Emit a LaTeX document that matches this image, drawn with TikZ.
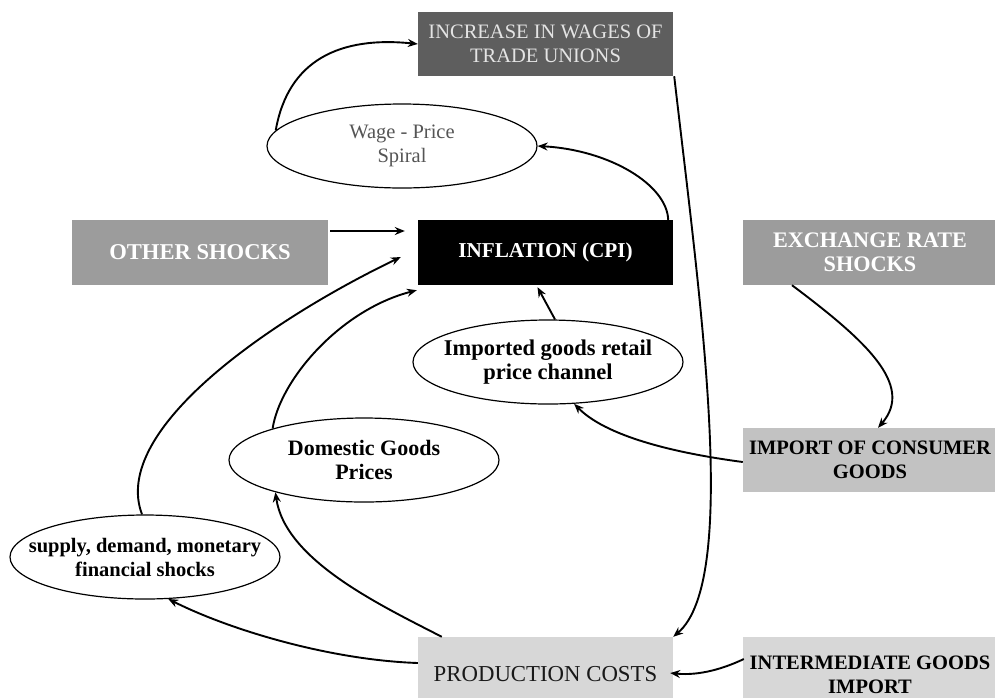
\documentclass[tikz,border=0pt]{standalone}
\usepackage{fontspec}
\setmainfont{Liberation Serif}
\usetikzlibrary{shapes.geometric,arrows.meta,calc}

\definecolor{wagebox}{HTML}{5E5E5E}
\definecolor{wagetext}{HTML}{E4E4E4}
\definecolor{shockbox}{HTML}{9C9C9C}
\definecolor{importbox}{HTML}{C2C2C2}
\definecolor{costbox}{HTML}{D7D7D7}
\definecolor{spiraltext}{HTML}{555555}

\newcommand{\txtsize}[1]{\fontsize{#1}{24}\selectfont}

\begin{document}
\begin{tikzpicture}[x=1pt,y=-1pt,
  box/.style={rectangle, inner sep=0pt, align=center,
    font=\txtsize{20.5}\bfseries},
  bubble/.style={ellipse, draw=black, line width=1.2pt, fill=white,
    minimum width=270pt, minimum height=84pt, inner sep=0pt},
  bubbletext/.style={align=center, inner sep=0pt,
    font=\txtsize{20.5}\bfseries},
  link/.style={line width=1.9pt, -{Stealth[length=10pt,width=8pt]}}]

\useasboundingbox (0,0) rectangle (995,697);
\clip (0,0) rectangle (995,697);

% rectangular boxes
\node[box, fill=wagebox, text=wagetext, minimum width=255pt, minimum height=64pt,
  font=\txtsize{20.5}] (inc) at (545.5,44) {INCREASE IN WAGES OF\\TRADE UNIONS};
\node[box, fill=shockbox, text=white, minimum width=256pt, minimum height=65pt,
  font=\txtsize{22.6}\bfseries] (oth) at (200,252.5) {OTHER SHOCKS};
\node[box, fill=black, text=white, minimum width=255pt, minimum height=65pt,
  font=\txtsize{21.2}\bfseries] (inf) at (545.5,252.5) {INFLATION (CPI)};
\node[box, fill=shockbox, text=white, minimum width=254pt, minimum height=65pt,
  font=\txtsize{22.2}\bfseries] (exch) at (870,252.5) {EXCHANGE RATE\\SHOCKS};
\node[box, fill=importbox, text=black, minimum width=254pt, minimum height=64pt] (impc) at (870,460) {IMPORT OF CONSUMER\\GOODS};
\node[box, fill=costbox, text=black!90, minimum width=255pt, minimum height=75pt,
  font=\txtsize{22.8}] (prod) at (545.5,674.5) {PRODUCTION COSTS};
\node[box, fill=costbox, text=black, minimum width=254pt, minimum height=75pt] (intm) at (870,674.5) {INTERMEDIATE GOODS\\IMPORT};

% elliptical channels
\node[bubble] (wage) at (402,146) {};
\node[bubbletext, text=spiraltext, font=\txtsize{20.5}] at (wage) {Wage - Price\\Spiral};
\node[bubble] (impg) at (548,362) {};
\node[bubbletext, font=\txtsize{22.5}\bfseries] at (impg) {Imported goods retail\\price channel};
\node[bubble] (dom) at (364,460) {};
\node[bubbletext, font=\txtsize{22}\bfseries] at (dom) {Domestic Goods\\Prices};
\node[bubble] (sup) at (145,557) {};
\node[bubbletext] at (sup) {supply, demand, monetary\\financial shocks};

% connectors
\draw[link] (wage.173) .. controls (288,60) and (340,36) .. (inc.west);
\draw[link] ([xshift=-5pt]inf.north east) .. controls (667,185) and (610,150) .. (wage.east);
\draw[link] ([xshift=1pt]inc.south east) .. controls (700,300) and (740,580) .. (prod.north east);
\draw[link] ([xshift=2pt,yshift=21.5pt]oth.east) -- ([xshift=-13pt,yshift=21.5pt]inf.west);
\draw[link] ([xshift=-3pt]sup.north) .. controls (110,430) and (270,320) .. ([xshift=-17pt,yshift=-4.5pt]inf.west);
\draw[link] (dom.161) .. controls (280,380) and (340,310) .. ([xshift=-1pt,yshift=-5pt]inf.south west);
\draw[link] ([xshift=7pt]impg.north) -- ([xshift=-8pt,yshift=-2pt]inf.south);
\draw[link] ([xshift=-78pt]exch.south) .. controls (865,340) and (915,385) .. ([xshift=8pt]impc.north);
\draw[link] ([yshift=-2pt]impc.west) .. controls (690,455) and (610,440) .. (impg.302);
\draw[link] ([xshift=24pt]prod.north west) .. controls (380,605) and (285,560) .. (dom.200);
\draw[link] ([yshift=11.5pt]prod.west) .. controls (330,660) and (230,630) .. (sup.299);
\draw[link] ([xshift=1pt,yshift=15.5pt]intm.west) .. controls (725,668) and (700,676) .. ([xshift=-3pt,yshift=1.5pt]prod.east);

\end{tikzpicture}
\end{document}
